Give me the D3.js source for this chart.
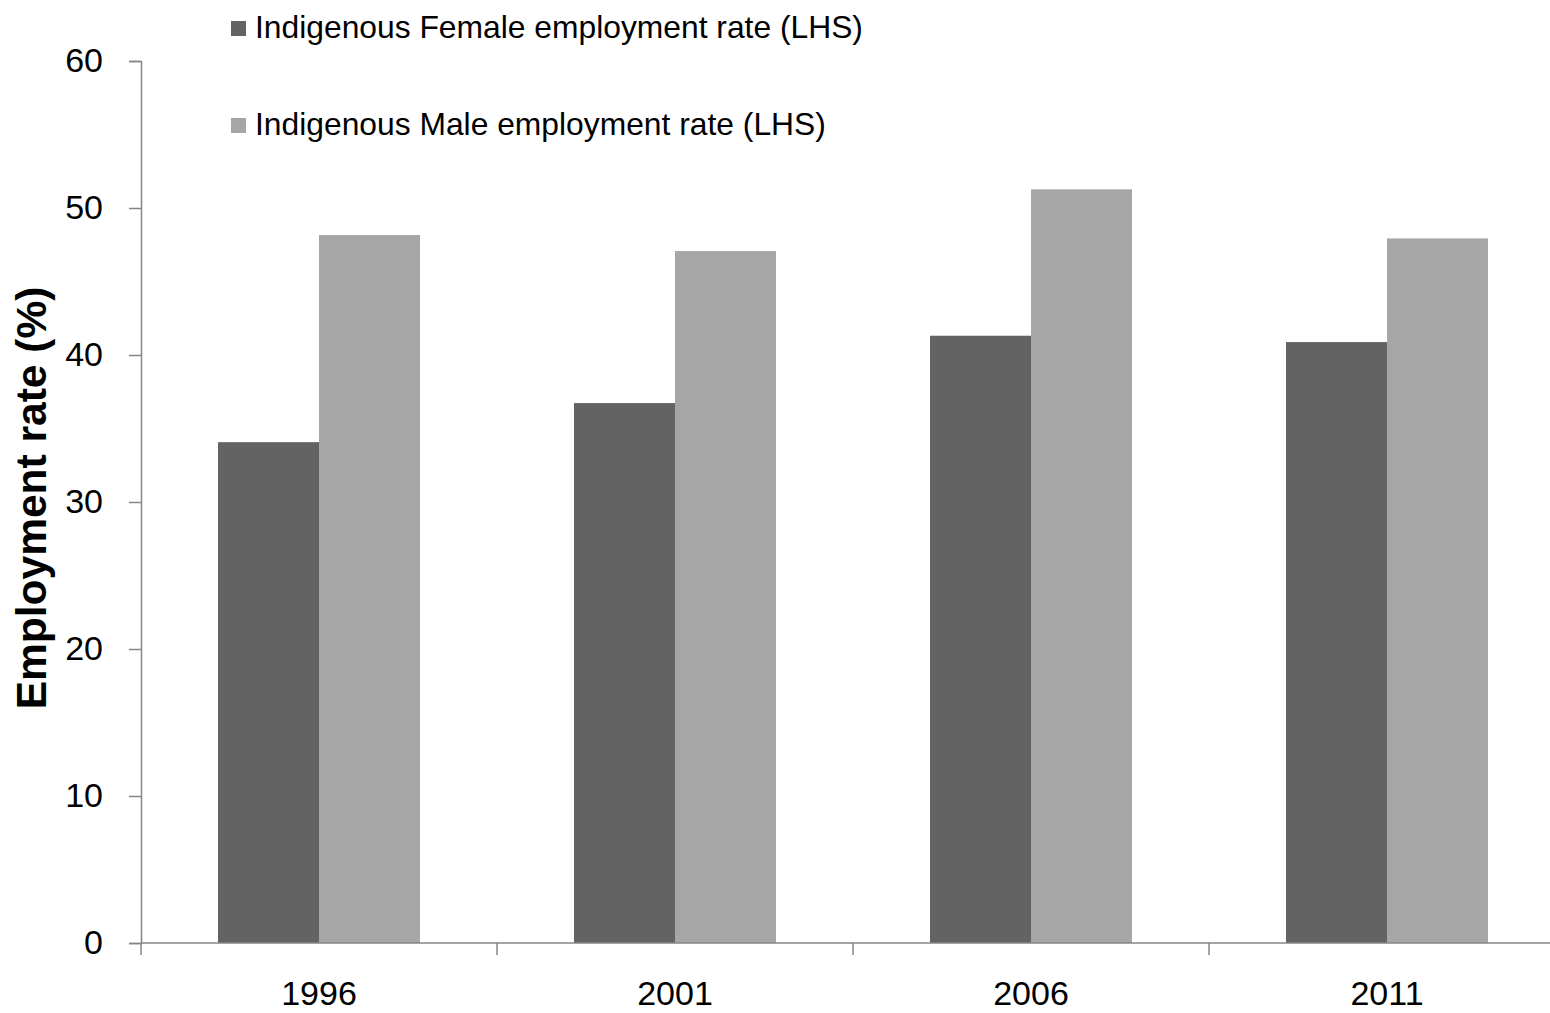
<!DOCTYPE html>
<html>
<head>
<meta charset="utf-8">
<script src="https://cdn.jsdelivr.net/npm/d3@7"></script>
<style>
  body { margin: 0; background: #fff; }
  svg { display: block; font-family: Arial, "Liberation Sans", sans-serif; }
</style>
</head>
<body>
<div id="chart"></div>
<script>
// Chart data
const years = ['1996', '2001', '2006', '2011'];
const seriesNames = ['Indigenous Female employment rate (LHS)', 'Indigenous Male employment rate (LHS)'];
const femaleRate = [34.07, 36.73, 41.31, 40.88];
const maleRate = [48.16, 47.07, 51.27, 47.93];
const yTicks = [0, 10, 20, 30, 40, 50, 60];
const seriesColors = ['#636363', '#a6a6a6'];

const width = 1550, height = 1013;
const margin = { top: 61, right: -15, bottom: 70, left: 141 };

const svg = d3.select('#chart')
  .append('svg')
  .attr('width', width)
  .attr('height', height);

const plotH = height - margin.top - margin.bottom;

// X scale: category bands, then series within each band
const x = d3.scaleBand()
  .domain(years)
  .range([margin.left, width - margin.right])
  .paddingInner(0.4326)
  .paddingOuter(0.2163);

const xSeries = d3.scaleBand()
  .domain([0, 1])
  .range([0, x.bandwidth()]);

const y = d3.scaleLinear()
  .domain([0, 60])
  .range([margin.top + plotH, margin.top]);

const rows = years.map((yr, i) => ({ year: yr, values: [femaleRate[i], maleRate[i]] }));

// Bars
svg.append('g')
  .selectAll('g')
  .data(rows)
  .join('g')
  .attr('transform', d => `translate(${x(d.year)},0)`)
  .selectAll('rect')
  .data(d => d.values.map((v, k) => ({ k, v })))
  .join('rect')
  .attr('x', d => xSeries(d.k))
  .attr('y', d => y(d.v))
  .attr('width', xSeries.bandwidth())
  .attr('height', d => y(0) - y(d.v))
  .attr('fill', d => seriesColors[d.k]);

// Y axis
const yAxis = svg.append('g')
  .attr('transform', `translate(${margin.left},0)`)
  .call(d3.axisLeft(y).tickValues(yTicks).tickSize(12).tickPadding(26));
yAxis.select('.domain').attr('stroke', '#868686').attr('stroke-width', 1.5);
yAxis.selectAll('.tick line').attr('stroke', '#868686').attr('stroke-width', 1.5);
yAxis.selectAll('text')
  .style('font-size', '34px')
  .attr('fill', '#000');

// X axis: ticks on band boundaries
const step = x.step();
const boundaries = d3.range(years.length + 1).map(i => margin.left + i * step);
const xAxis = svg.append('g');
xAxis.append('line')
  .attr('x1', margin.left)
  .attr('x2', width)
  .attr('y1', y(0))
  .attr('y2', y(0))
  .attr('stroke', '#868686')
  .attr('stroke-width', 1.5);
xAxis.selectAll('line.tk')
  .data(boundaries)
  .join('line')
  .attr('class', 'tk')
  .attr('x1', d => d)
  .attr('x2', d => d)
  .attr('y1', y(0))
  .attr('y2', y(0) + 12)
  .attr('stroke', '#868686')
  .attr('stroke-width', 1.5);
xAxis.selectAll('text')
  .data(years)
  .join('text')
  .attr('x', d => x(d) + x.bandwidth() / 2)
  .attr('y', y(0) + 62)
  .attr('text-anchor', 'middle')
  .style('font-size', '34px')
  .text(d => d);

// Y axis title
svg.append('text')
  .attr('transform', 'translate(46,498) rotate(-90)')
  .attr('text-anchor', 'middle')
  .style('font-size', '42.5px')
  .style('font-weight', 'bold')
  .text('Employment rate (%)');

// Legend
const legend = svg.append('g')
  .selectAll('g')
  .data(seriesNames)
  .join('g')
  .attr('transform', (d, i) => `translate(231,${38 + i * 97})`);
legend.append('rect')
  .attr('x', 0)
  .attr('y', -17)
  .attr('width', 15)
  .attr('height', 15)
  .attr('fill', (d, i) => seriesColors[i]);
legend.append('text')
  .attr('x', 24)
  .attr('y', 0)
  .style('font-size', '31.8px')
  .text(d => d);
</script>
</body>
</html>
